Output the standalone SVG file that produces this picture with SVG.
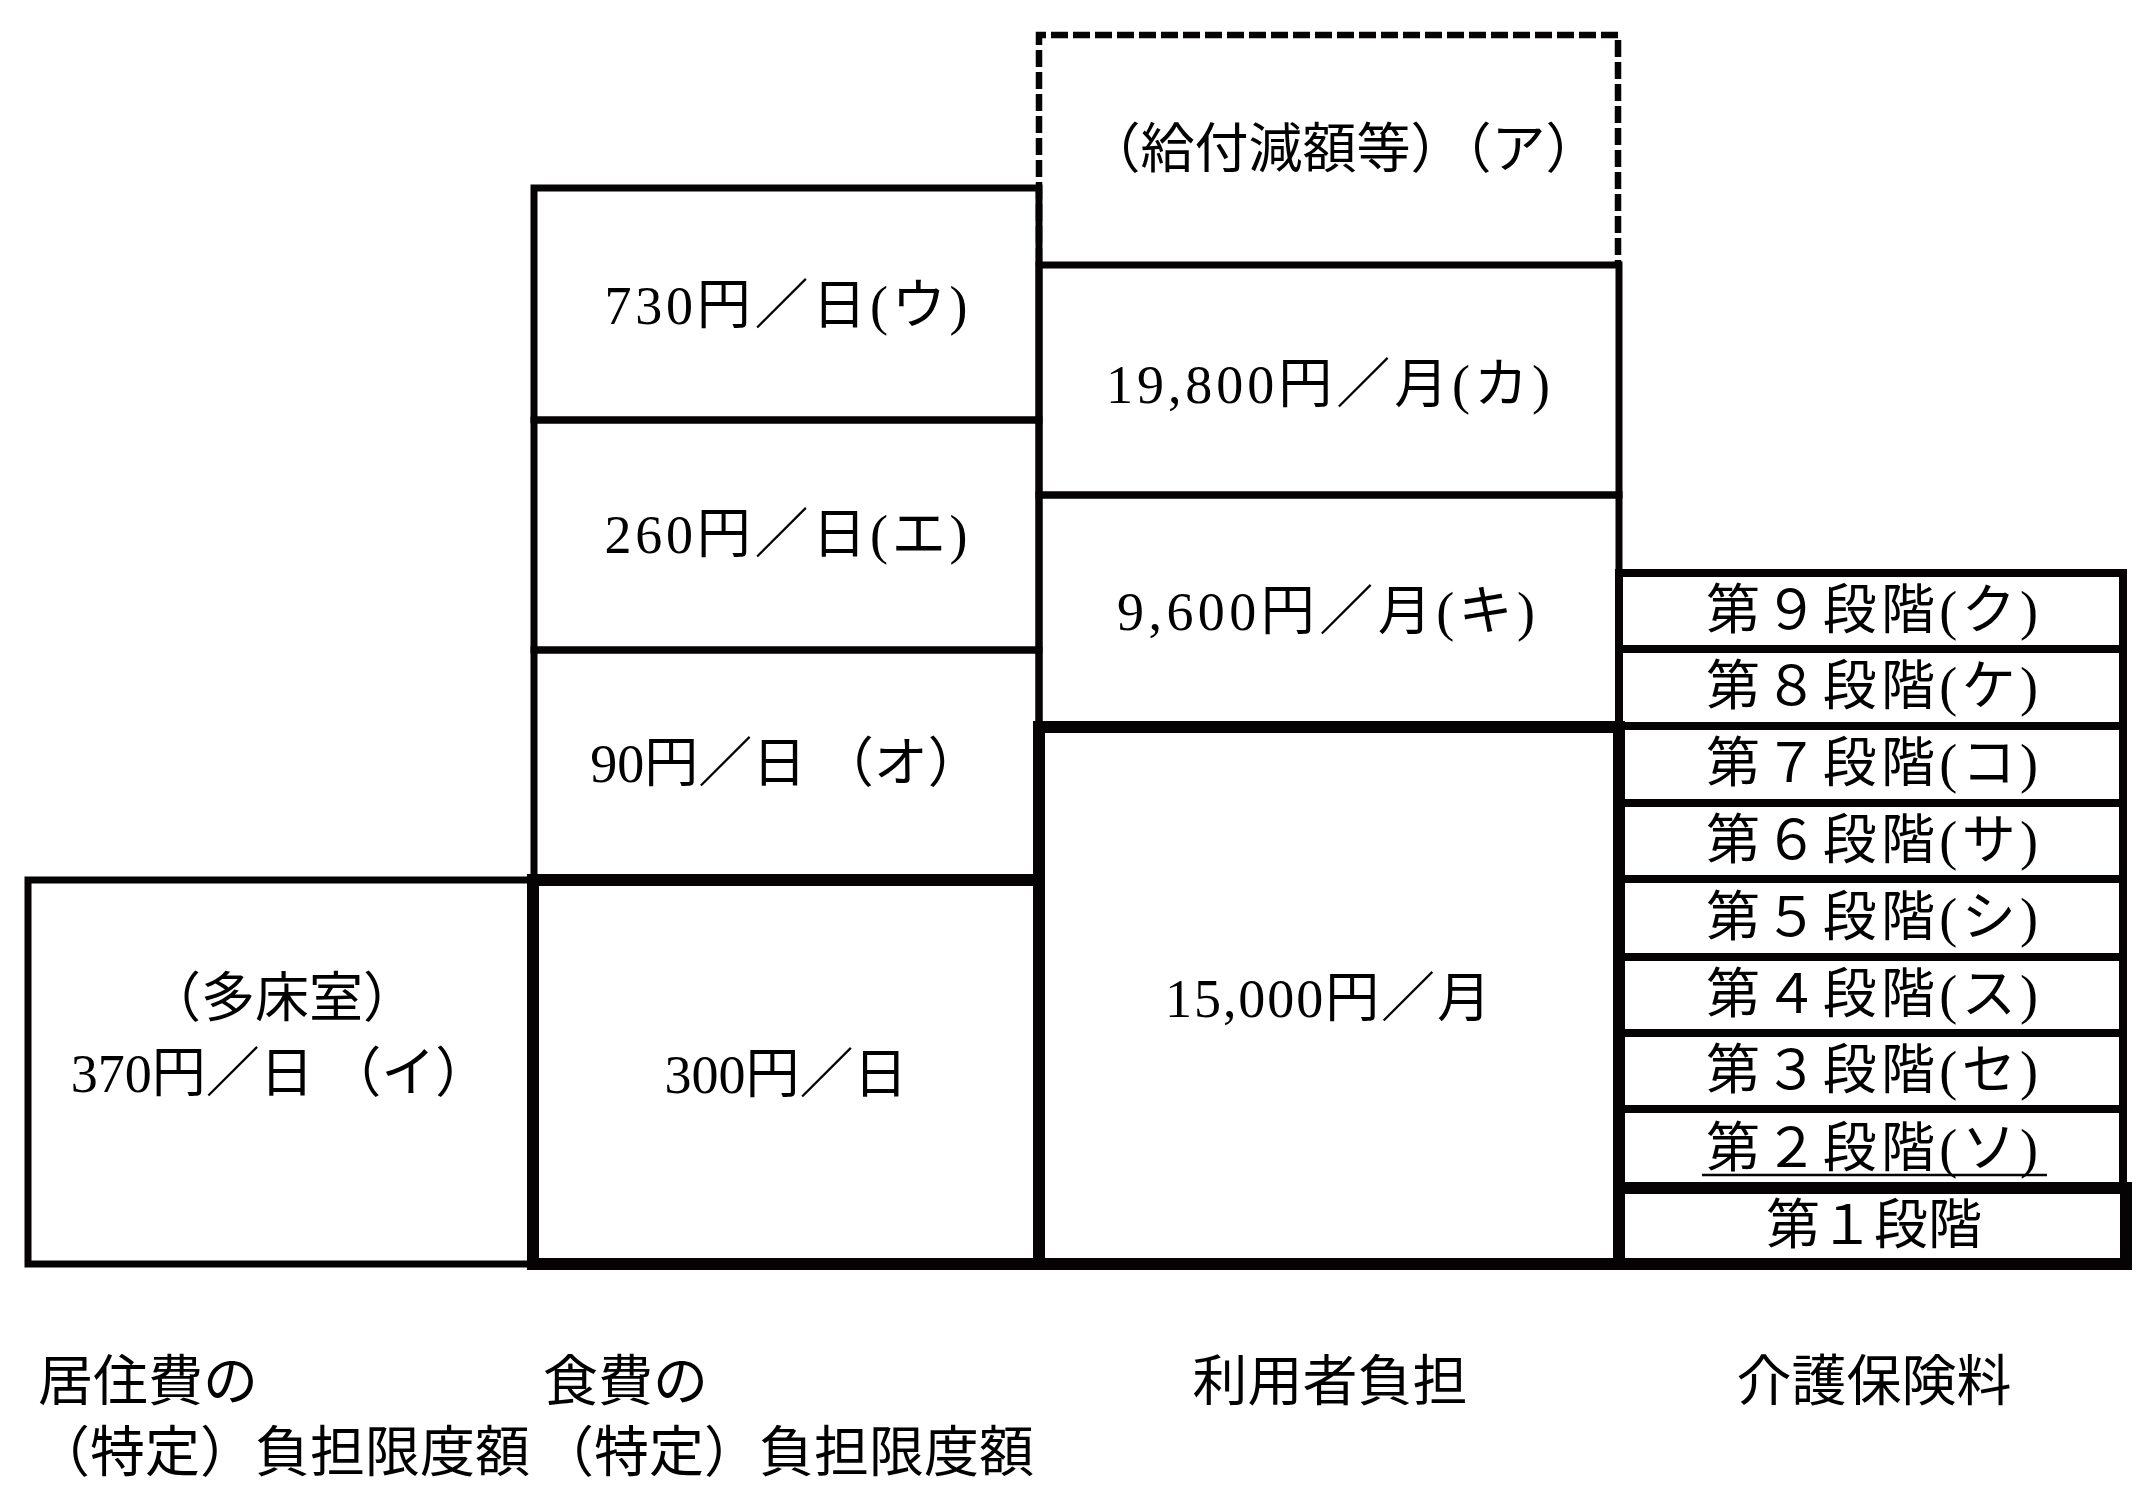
<svg xmlns="http://www.w3.org/2000/svg" width="2150" height="1498" viewBox="0 0 2150 1498">
<style>
.bx{fill:none;stroke:#050303;stroke-width:7}
.thin{fill:none;stroke:#050303;stroke-width:8}
.thick{fill:none;stroke:#050303;stroke-width:12}
.dash{fill:none;stroke:#050303;stroke-width:6.5;stroke-dasharray:17 5}
.t{font-family:'Liberation Serif','Noto Sans CJK JP',serif;font-size:54px;fill:#000;text-anchor:middle;dominant-baseline:central}
.l{font-family:'Liberation Serif','Noto Sans CJK JP',serif;font-size:55px;fill:#000;text-anchor:start;dominant-baseline:central}
</style>
<defs>
<clipPath id="clipL"><rect x="0" y="1400" width="531" height="98"/></clipPath>
</defs>
<rect x="0" y="0" width="2150" height="1498" fill="#ffffff"/>

<g id="housing-tami">
<rect class="bx" x="28" y="880" width="505" height="384"/>
<text class="t" x="282" y="999">（多床室）</text>
<text class="t" x="280" y="1074">370円／日 （イ）</text>
</g>

<g id="food-u">
<rect class="bx" x="534" y="188" width="505" height="232"/>
<text class="t" x="786" y="306" textLength="363">730円／日(ウ)</text>
</g>
<g id="food-e">
<rect class="bx" x="534" y="420" width="505" height="230"/>
<text class="t" x="786" y="535" textLength="363">260円／日(エ)</text>
</g>
<g id="food-o">
<rect class="bx" x="534" y="650" width="505" height="230"/>
<text class="t" x="786" y="764">90円／日 （オ）</text>
</g>

<g id="user-a">
<path class="dash" d="M1039,265 V35 H1618 V265"/>
<text class="t" x="1343" y="150">（給付減額等）（ア）</text>
</g>
<g id="user-ka">
<rect class="bx" x="1039" y="265" width="580" height="230"/>
<text class="t" x="1328" y="385" textLength="444">19,800円／月(カ)</text>
</g>
<g id="user-ki">
<rect class="bx" x="1039" y="495" width="580" height="232"/>
<text class="t" x="1326" y="612" textLength="418">9,600円／月(キ)</text>
</g>

<g id="premium-9">
<rect class="thin" x="1619" y="573" width="504" height="76"/>
<text class="t" x="1872" y="611" textLength="332">第９段階(ク)</text>
</g>
<g id="premium-8">
<rect class="thin" x="1619" y="649" width="504" height="77"/>
<text class="t" x="1872" y="687" textLength="332">第８段階(ケ)</text>
</g>
<g id="premium-7">
<rect class="thin" x="1619" y="726" width="504" height="77"/>
<text class="t" x="1872" y="764" textLength="332">第７段階(コ)</text>
</g>
<g id="premium-6">
<rect class="thin" x="1619" y="803" width="504" height="76"/>
<text class="t" x="1872" y="841" textLength="332">第６段階(サ)</text>
</g>
<g id="premium-5">
<rect class="thin" x="1619" y="879" width="504" height="78"/>
<text class="t" x="1872" y="918" textLength="332">第５段階(シ)</text>
</g>
<g id="premium-4">
<rect class="thin" x="1619" y="957" width="504" height="76"/>
<text class="t" x="1872" y="995" textLength="332">第４段階(ス)</text>
</g>
<g id="premium-3">
<rect class="thin" x="1619" y="1033" width="504" height="76"/>
<text class="t" x="1872" y="1071" textLength="332">第３段階(セ)</text>
</g>
<g id="premium-2">
<rect class="thin" x="1619" y="1109" width="504" height="79"/>
<text class="t" x="1872" y="1149" textLength="332">第２段階(ソ)</text>
<line x1="1702" y1="1175" x2="2047" y2="1175" stroke="#050303" stroke-width="2.5"/>
</g>

<g id="food-300">
<rect class="thick" x="533" y="880" width="506" height="384"/>
<text class="t" x="786" y="1075">300円／日</text>
</g>
<g id="user-15000">
<rect class="thick" x="1039" y="727" width="580" height="537"/>
<text class="t" x="1328" y="999" textLength="326">15,000円／月</text>
</g>
<g id="premium-1">
<rect class="thick" x="1619" y="1188" width="507" height="76"/>
<text class="t" x="1874" y="1226">第１段階</text>
</g>

<g id="labels">
<text class="l" x="38" y="1381">居住費の</text>
<text class="l" x="35" y="1452" clip-path="url(#clipL)">（特定）負担限度額</text>
<text class="l" x="543" y="1381">食費の</text>
<text class="l" x="539" y="1452">（特定）負担限度額</text>
<text class="t" x="1330" y="1381" style="font-size:55px">利用者負担</text>
<text class="t" x="1874" y="1381" style="font-size:55px">介護保険料</text>
</g>

<g id="connectors"></g>
</svg>
